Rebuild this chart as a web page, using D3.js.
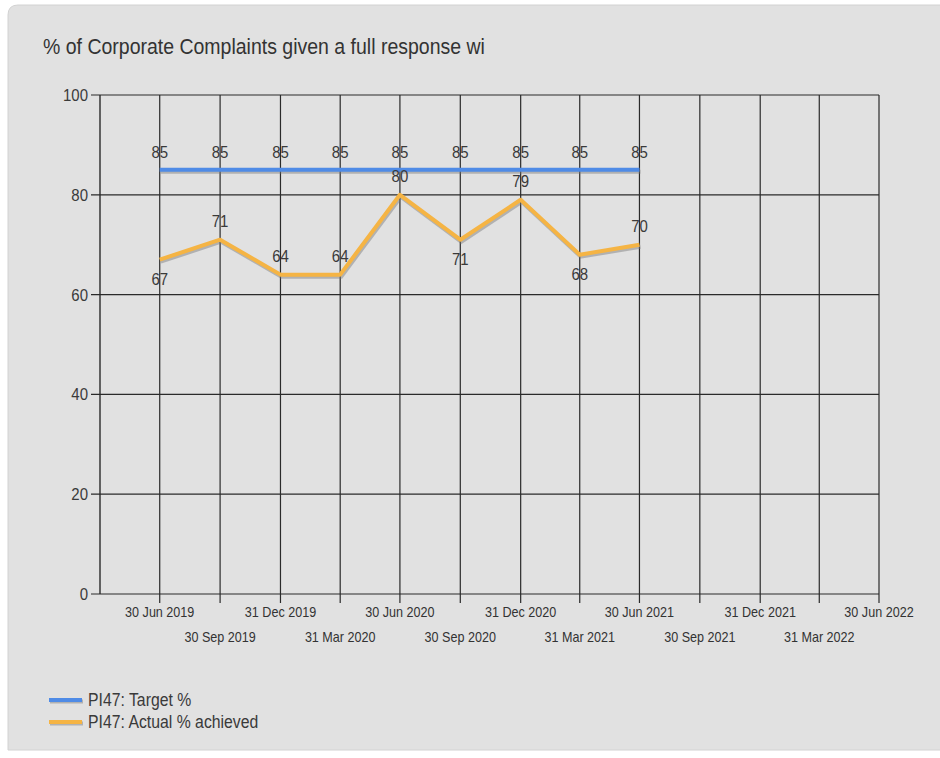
<!DOCTYPE html>
<html>
<head>
<meta charset="utf-8">
<script src="https://cdn.jsdelivr.net/npm/d3@7"></script>
<style>
  html, body { margin: 0; padding: 0; background: #ffffff; }
  svg { display: block; }
  text { font-family: "Liberation Sans", Arial, sans-serif; }
</style>
</head>
<body>
<svg id="chart" width="940" height="758"></svg>
<script>
// Quarter-end dates and series values
const quarters = ["2019-06-30", "2019-09-30", "2019-12-31", "2020-03-31", "2020-06-30",
                  "2020-09-30", "2020-12-31", "2021-03-31", "2021-06-30"];
const targetValues = [85, 85, 85, 85, 85, 85, 85, 85, 85];
const actualValues = [67, 71, 64, 64, 80, 71, 79, 68, 70];
// Label placement for the actual series: 1 = above the point, -1 = below
const actualLabelSide = [-1, 1, 1, 1, 1, -1, 1, -1, 1];
const tickDates = ["2019-06-30", "2019-09-30", "2019-12-31", "2020-03-31", "2020-06-30",
                   "2020-09-30", "2020-12-31", "2021-03-31", "2021-06-30", "2021-09-30",
                   "2021-12-31", "2022-03-31", "2022-06-30"];
const yTicks = [0, 20, 40, 60, 80, 100];
const seriesNames = ["PI47: Target %", "PI47: Actual % achieved"];
const title = "% of Corporate Complaints given a full response wi";

const parse = d3.timeParse("%Y-%m-%d");
const fmt = d3.timeFormat("%-d %b %Y");

const svg = d3.select("#chart");
const STRETCH = 1.12; // text is drawn slightly tall

// place a text element at (x, y) with a small vertical stretch
function placeText(sel, fx, fy) {
  return sel.attr("transform", (d, i) =>
    `translate(${typeof fx === "function" ? fx(d, i) : fx},${typeof fy === "function" ? fy(d, i) : fy}) scale(1,${STRETCH})`);
}

// Panel
svg.append("path")
  .attr("d", "M8,750 L8,15 Q8,5 18,5 L945,5 L945,750 Z")
  .attr("fill", "#e1e1e1")
  .attr("stroke", "#d2d2d2")
  .attr("stroke-width", 1);

placeText(svg.append("text"), 43, 54)
  .attr("font-size", 19.5)
  .attr("fill", "#333")
  .text(title);

const plot = { left: 100, right: 879, top: 95, bottom: 594 };

const x = d3.scaleTime()
  .domain([parse("2019-03-31"), parse("2022-06-30")])
  .range([plot.left, plot.right]);
const y = d3.scaleLinear().domain([0, 100]).range([plot.bottom, plot.top]);

const grid = svg.append("g");
// Horizontal grid lines
grid.selectAll("line.h").data(yTicks).join("line")
  .attr("x1", plot.left - 9).attr("x2", plot.right)
  .attr("y1", d => y(d)).attr("y2", d => y(d))
  .attr("stroke", "#2a2a2a").attr("stroke-width", 1.2);
// Vertical grid lines + ticks
grid.selectAll("line.v").data(tickDates).join("line")
  .attr("x1", d => x(parse(d))).attr("x2", d => x(parse(d)))
  .attr("y1", plot.top).attr("y2", plot.bottom + 9)
  .attr("stroke", "#2a2a2a").attr("stroke-width", 1.2);
// Left axis line
grid.append("line")
  .attr("x1", plot.left).attr("x2", plot.left)
  .attr("y1", plot.top).attr("y2", plot.bottom)
  .attr("stroke", "#2a2a2a").attr("stroke-width", 1.4);

// Y labels
placeText(svg.append("g").selectAll("text").data(yTicks).join("text"),
    plot.left - 12, d => y(d) + 6)
  .attr("text-anchor", "end")
  .attr("font-size", 15)
  .attr("fill", "#3a3a3a")
  .text(d => d);

// X labels, alternating rows
placeText(svg.append("g").selectAll("text").data(tickDates).join("text"),
    d => x(parse(d)), (d, i) => i % 2 === 0 ? 617 : 642)
  .attr("text-anchor", "middle")
  .attr("font-size", 12.6)
  .attr("fill", "#333")
  .text(d => fmt(parse(d)));

const line = d3.line().x(d => x(d.date)).y(d => y(d.value));
const targetData = quarters.map((q, i) => ({ date: parse(q), value: targetValues[i] }));
const actualData = quarters.map((q, i) => ({ date: parse(q), value: actualValues[i], side: actualLabelSide[i] }));

function drawSeries(data, color) {
  // soft shadow under the line
  svg.append("path").datum(data)
    .attr("d", line)
    .attr("fill", "none")
    .attr("stroke", "rgba(120,120,120,0.45)")
    .attr("stroke-width", 4)
    .attr("transform", "translate(1,2)");
  svg.append("path").datum(data)
    .attr("d", line)
    .attr("fill", "none")
    .attr("stroke", color)
    .attr("stroke-width", 4)
    .attr("stroke-linejoin", "round");
}
drawSeries(targetData, "#4f8be6");
drawSeries(actualData, "#f5b444");

// Value labels
placeText(svg.append("g").selectAll("text").data(targetData).join("text"),
    d => x(d.date), d => y(d.value) - 12)
  .attr("text-anchor", "middle").attr("font-size", 15).attr("fill", "#3a3a3a")
  .text(d => d.value);
placeText(svg.append("g").selectAll("text").data(actualData).join("text"),
    d => x(d.date), d => d.side > 0 ? y(d.value) - 13 : y(d.value) + 25)
  .attr("text-anchor", "middle").attr("font-size", 15).attr("fill", "#3a3a3a")
  .text(d => d.value);

// Legend
const colors = ["#4f8be6", "#f5b444"];
const legend = svg.append("g");
seriesNames.forEach((name, i) => {
  const ly = 700 + i * 22;
  legend.append("line")
    .attr("x1", 50).attr("x2", 83).attr("y1", ly + 1.5).attr("y2", ly + 1.5)
    .attr("stroke", "rgba(120,120,120,0.45)").attr("stroke-width", 4);
  legend.append("line")
    .attr("x1", 49).attr("x2", 82).attr("y1", ly).attr("y2", ly)
    .attr("stroke", colors[i]).attr("stroke-width", 4);
  placeText(legend.append("text"), 88, ly + 6)
    .attr("font-size", 15.8).attr("fill", "#3a3a3a")
    .text(name);
});
</script>
</body>
</html>
